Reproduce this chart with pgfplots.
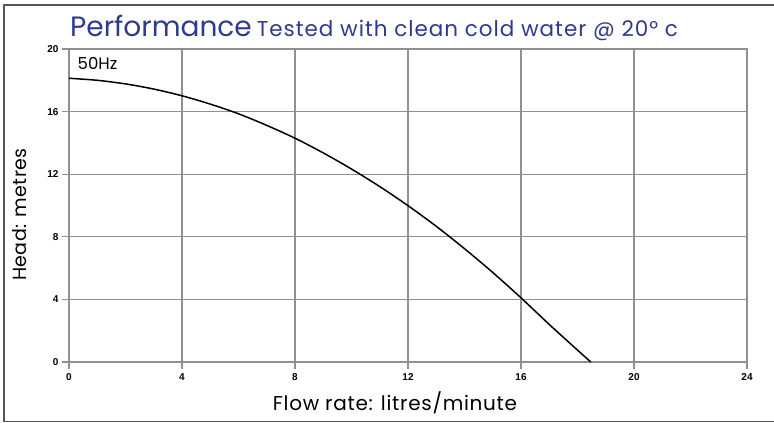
\documentclass[border=0pt]{standalone}
\usepackage{pgfplots}
\pgfplotsset{compat=1.18}
\usepackage{fontspec}
\setmainfont{Liberation Sans}
\newfontfamily\geo{Poppins}
\definecolor{titleblue}{HTML}{2E3A8E}
\definecolor{gridgray}{HTML}{909090}
\definecolor{framegray}{HTML}{555555}
\begin{document}
\begin{tikzpicture}[x=1pt,y=1pt]
\useasboundingbox (0,0) rectangle (774,423);
\draw[framegray,line width=1.6pt] (3,418) -- (774,418);
\draw[framegray,line width=1.6pt] (3.8,1.5) -- (3.8,418.8);
\draw[framegray,line width=1.6pt] (3,1.5) -- (774,1.5);
\node[anchor=base west,text=titleblue,inner sep=0] at (70,386) {\geo\fontsize{28}{30}\selectfont Performance\hspace{5pt}\fontsize{21.5}{23}\selectfont\addfontfeature{LetterSpace=4.5} Tested with clean cold water @ 20° c};
\begin{axis}[
  at={(69pt,61pt)}, anchor=south west,
  scale only axis, width=678pt, height=313pt,
  xmin=0, xmax=24, ymin=0, ymax=20,
  xtick={0,4,...,24}, ytick={0,4,...,20},
  grid=major,
  major grid style={gridgray,line width=1.1pt},
  axis line style={gridgray,line width=1.1pt},
  tick style={gridgray,line width=1.1pt},
  tick align=outside,
  major tick length=7pt,
  xtick pos=bottom, ytick pos=left,
  /pgf/number format/assume math mode=true,
  ticklabel style={font=\bfseries\fontsize{10}{11}\selectfont},
  xticklabel style={yshift=-1pt},
  xlabel={\geo\fontsize{20}{21}\selectfont\addfontfeature{LetterSpace=3.5}Flow rate: litres/minute},
  ylabel={\geo\fontsize{19}{21}\selectfont\addfontfeature{LetterSpace=2}Head: metres},
  xlabel style={yshift=-4pt,xshift=-13pt},
  ylabel style={yshift=14pt,xshift=-9pt},
  clip=false,
]
\addplot[black,line width=1.5pt,smooth] coordinates {
(0,18.13) (1,18.0) (2,17.77) (3,17.44) (4,17.01) (5,16.48) (6,15.86) (7,15.12)
(8,14.3) (9,13.36) (10,12.33) (11,11.21) (12,9.99) (13,8.67) (14,7.24)
(15,5.72) (16,4.1) (17,2.4) (18,0.76) (18.47,0)
};
\node[anchor=west,inner sep=0] at (axis cs:0.3,19.1) {\geo\fontsize{16.5}{18}\selectfont 50Hz};
\end{axis}
\end{tikzpicture}
\end{document}
